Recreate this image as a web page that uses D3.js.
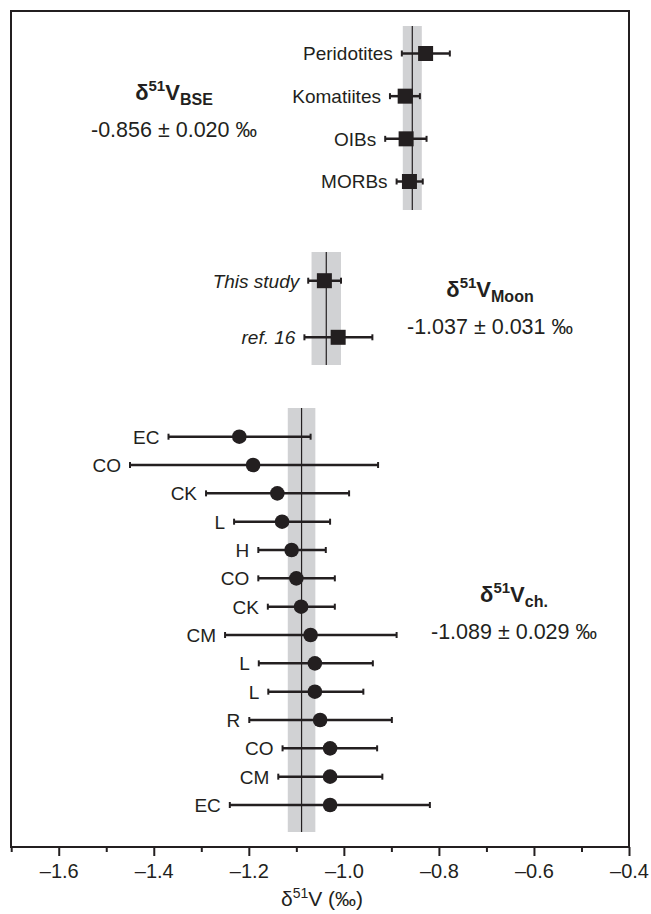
<!DOCTYPE html>
<html>
<head>
<meta charset="utf-8">
<script src="https://cdn.jsdelivr.net/npm/d3@7"></script>
<style>
  body { margin: 0; background: #fff; }
  text { font-family: "Liberation Sans", Arial, sans-serif; fill: #231f20; }
</style>
</head>
<body>
<script>
// data
var bseLabels = ['Peridotites', 'Komatiites', 'OIBs', 'MORBs'];
var bseMean = [-0.828, -0.871, -0.869, -0.862];
var bseLow = [-0.878, -0.903, -0.913, -0.889];
var bseHigh = [-0.777, -0.840, -0.826, -0.834];

var moonLabels = ['This study', 'ref. 16'];
var moonMean = [-1.041, -1.012];
var moonLow = [-1.075, -1.083];
var moonHigh = [-1.006, -0.940];

var chLabels = ['EC', 'CO', 'CK', 'L', 'H', 'CO', 'CK', 'CM', 'L', 'L', 'R', 'CO', 'CM', 'EC'];
var chMean = [-1.220, -1.191, -1.140, -1.130, -1.110, -1.100, -1.090, -1.070, -1.061, -1.061, -1.050, -1.029, -1.029, -1.029];
var chLow = [-1.369, -1.450, -1.290, -1.231, -1.180, -1.180, -1.160, -1.250, -1.179, -1.159, -1.199, -1.129, -1.138, -1.240];
var chHigh = [-1.070, -0.928, -0.989, -1.029, -1.038, -1.019, -1.019, -0.889, -0.939, -0.959, -0.899, -0.930, -0.919, -0.819];

// group averages: [mean, 2se]
var bseAvg = [-0.856, 0.020];
var moonAvg = [-1.037, 0.031];
var chAvg = [-1.089, 0.029];

var majorTicks = [-1.6, -1.4, -1.2, -1.0, -0.8, -0.6, -0.4];
var minorTicks = [-1.7, -1.5, -1.3, -1.1, -0.9, -0.7, -0.5];

var ink = '#231f20';
var svg = d3.select('body').append('svg').attr('width', 651).attr('height', 914);

var x = d3.scaleLinear().domain([-1.7, -0.4]).range([11.2, 629]);

var yBse = d3.scaleLinear().domain([0, 3]).range([53.5, 181.5]);
var yMoon = d3.scaleLinear().domain([0, 1]).range([280.7, 337.3]);
var yCh = d3.scaleLinear().domain([0, 13]).range([436.7, 805]);

// grey bands with the mean line
function band(avg, top, bottom) {
	svg.append('rect')
		.attr('x', x(avg[0] - avg[1]))
		.attr('width', x(avg[0] + avg[1]) - x(avg[0] - avg[1]))
		.attr('y', top)
		.attr('height', bottom - top)
		.attr('fill', '#d1d2d4');
	svg.append('line')
		.attr('x1', x(avg[0])).attr('x2', x(avg[0]))
		.attr('y1', top).attr('y2', bottom)
		.attr('stroke', ink).attr('stroke-width', 1.2);
}
band(bseAvg, 26, 210);
band(moonAvg, 252, 365);
band(chAvg, 408, 832);

// error bars, markers, labels
function group(labels, mean, low, high, y, shape, italic) {
	var rows = labels.map((d, i) => ({label: d, m: mean[i], lo: low[i], hi: high[i], i: i}));
	var g = svg.append('g');
	g.selectAll('line.err').data(rows).enter().append('line')
		.attr('class', 'err')
		.attr('x1', d => x(d.lo)).attr('x2', d => x(d.hi))
		.attr('y1', d => y(d.i)).attr('y2', d => y(d.i))
		.attr('stroke', ink).attr('stroke-width', 2.5);
	g.selectAll('line.capl').data(rows).enter().append('line')
		.attr('class', 'capl')
		.attr('x1', d => x(d.lo)).attr('x2', d => x(d.lo))
		.attr('y1', d => y(d.i) - 3).attr('y2', d => y(d.i) + 3)
		.attr('stroke', ink).attr('stroke-width', 2);
	g.selectAll('line.caph').data(rows).enter().append('line')
		.attr('class', 'caph')
		.attr('x1', d => x(d.hi)).attr('x2', d => x(d.hi))
		.attr('y1', d => y(d.i) - 3).attr('y2', d => y(d.i) + 3)
		.attr('stroke', ink).attr('stroke-width', 2);
	if (shape === 'square') {
		g.selectAll('rect').data(rows).enter().append('rect')
			.attr('x', d => x(d.m) - 7.5).attr('y', d => y(d.i) - 7.5)
			.attr('width', 15).attr('height', 15)
			.attr('fill', ink);
	} else {
		g.selectAll('circle').data(rows).enter().append('circle')
			.attr('cx', d => x(d.m)).attr('cy', d => y(d.i))
			.attr('r', 7.3)
			.attr('fill', ink);
	}
	g.selectAll('text').data(rows).enter().append('text')
		.attr('x', d => x(d.lo) - 9)
		.attr('y', d => y(d.i))
		.attr('dy', '0.36em')
		.attr('text-anchor', 'end')
		.attr('font-size', 19)
		.attr('font-style', italic ? 'italic' : 'normal')
		.text(d => d.label);
}
group(bseLabels, bseMean, bseLow, bseHigh, yBse, 'square', false);
group(moonLabels, moonMean, moonLow, moonHigh, yMoon, 'square', true);
group(chLabels, chMean, chLow, chHigh, yCh, 'circle', false);

// annotations
function note(cx, y, sub, avg) {
	var t = svg.append('text')
		.attr('x', cx).attr('y', y)
		.attr('text-anchor', 'middle')
		.attr('font-size', 22)
		.attr('font-weight', 'bold');
	t.append('tspan').text('δ');
	t.append('tspan').attr('font-size', 15).attr('dy', -9).text('51');
	t.append('tspan').attr('dy', 9).text('V');
	t.append('tspan').attr('font-size', 16).attr('dy', 5).text(sub);
	svg.append('text')
		.attr('x', cx).attr('y', y + 37)
		.attr('text-anchor', 'middle')
		.attr('font-size', 21.5)
		.text(avg[0].toFixed(3) + ' ± ' + avg[1].toFixed(3) + ' ‰');
}
note(174, 100, 'BSE', bseAvg);
note(490, 296.7, 'Moon', moonAvg);
note(514, 602, 'ch.', chAvg);

// frame
svg.append('rect')
	.attr('x', 11).attr('y', 11)
	.attr('width', 618).attr('height', 836)
	.attr('fill', 'none')
	.attr('stroke', ink).attr('stroke-width', 2);

// x axis
var axisY = 847;
var minorAxis = svg.append('g').attr('transform', 'translate(0,' + axisY + ')')
	.call(d3.axisBottom(x).tickValues(minorTicks).tickSize(5).tickFormat(''));
var majorAxis = svg.append('g').attr('transform', 'translate(0,' + axisY + ')')
	.call(d3.axisBottom(x).tickValues(majorTicks).tickSize(9).tickPadding(8)
		.tickFormat(d => '–' + Math.abs(d).toFixed(1)));
svg.selectAll('.domain').remove();
svg.selectAll('.tick line').attr('stroke', ink).attr('stroke-width', 2);
majorAxis.selectAll('text')
	.attr('font-size', 20)
	.attr('fill', ink)
	.attr('font-family', '"Liberation Sans", Arial, sans-serif');

var title = svg.append('text')
	.attr('x', 322).attr('y', 906)
	.attr('text-anchor', 'middle')
	.attr('font-size', 21);
title.append('tspan').text('δ');
title.append('tspan').attr('font-size', 14).attr('dy', -8).text('51');
title.append('tspan').attr('dy', 8).text('V (‰)');
</script>
</body>
</html>
